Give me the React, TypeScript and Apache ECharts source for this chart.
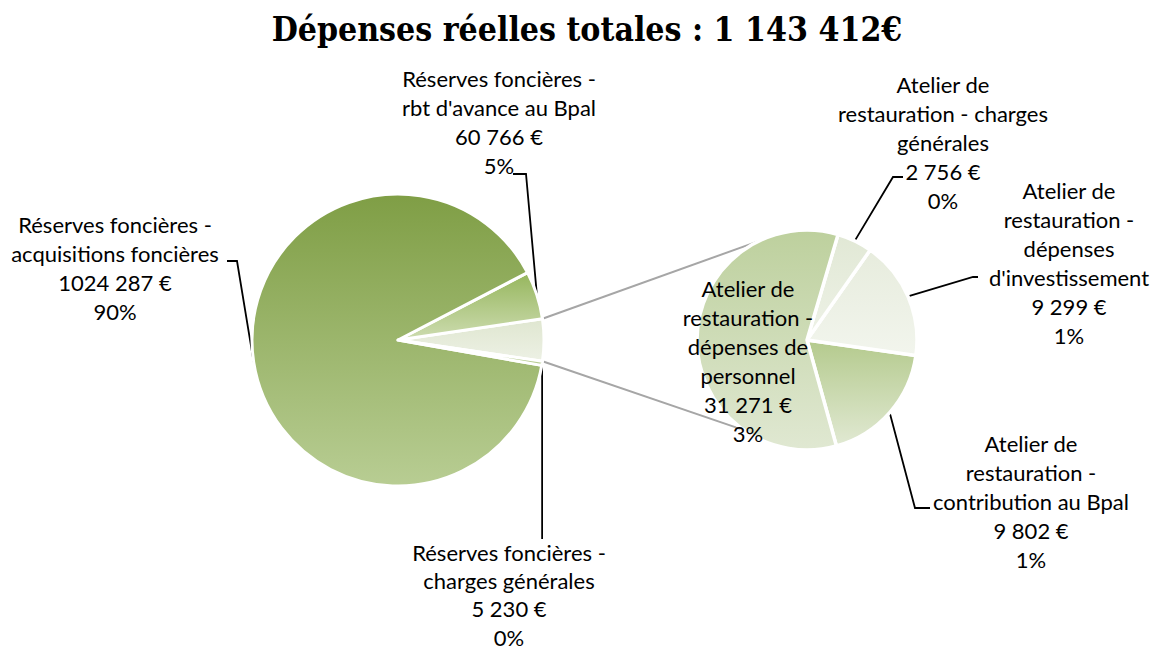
import React, { useEffect, useRef } from "react";
import * as echarts from "echarts";

// ---------- data ----------
const TITLE = "Dépenses réelles totales : 1 143 412€";

const mainNames = [
  "Réserves foncières -\nrbt d'avance au Bpal",
  "Réserves foncières -\nacquisitions foncières",
  "Réserves foncières -\ncharges générales",
];
const mainValues = [60766, 1024287, 5230];

const subNames = [
  "Atelier de\nrestauration -\ncontribution au Bpal",
  "Atelier de\nrestauration -\ndépenses\nd'investissement",
  "Atelier de\nrestauration - charges\ngénérales",
  "Atelier de\nrestauration -\ndépenses de\npersonnel",
];
const subValues = [9802, 9299, 2756, 31271];

// ---------- layout / style ----------
const MAIN_C = [398, 340];
const MAIN_R = 146;
const SUB_C = [807, 340];
const SUB_R = 110;
const SUB_START = -74.5;
const LINK_TOP_ANGLE = 116;
const LINK_BOTTOM_ANGLE = -125;

const FONT = "Lato, 'Noto Sans', sans-serif";

const g = (a: string, b: string) =>
  new echarts.graphic.LinearGradient(0, 0, 0, 1, [
    { offset: 0, color: a },
    { offset: 1, color: b },
  ]);

const mainOtherColor = () => g("#dfe6d0", "#edf1e5");
const mainColors = [
  () => g("#96b65d", "#cddcb0"),
  () => g("#7f9e45", "#b8cd93"),
  () => g("#b0c789", "#b8cd93"),
];
const subColors = [
  () => g("#b4ca8d", "#e1e9d3"),
  () => g("#e7ecdd", "#f2f5ed"),
  () => g("#e1e8d5", "#eef2e7"),
  () => g("#bdd09d", "#e0e8d2"),
];

// label layouts (index = data index in the series)
const MAIN_LABELS: any[] = [
  null,
  { x: 499, y: 63.5, elbow: [[526, 174], [513, 174]] },
  { x: 115, y: 209.5, elbow: [[237, 261], [227, 261]] },
  { x: 509, y: 538, vertical: 539 },
];
const SUB_LABELS: any[] = [
  { x: 1031, y: 428.5, elbow: [[915, 508], [930, 508]] },
  { x: 1069, y: 175.5, elbow: [[973, 277], [978, 277]] },
  { x: 943, y: 69.5, elbow: [[893, 177], [903, 177]] },
  { x: 748, y: 273.5, none: true },
];

const fmtEuro = (v: number) => {
  const s = String(v);
  return (s.length > 3 ? s.slice(0, -3) + " " + s.slice(-3) : s) + " €";
};

export default function App() {
  const ref = useRef<HTMLDivElement>(null);

  useEffect(() => {
    if (!ref.current) return;
    const chart = echarts.init(ref.current, undefined, { renderer: "svg" });

    const otherSum = subValues.reduce((a, b) => a + b, 0);
    const grand = mainValues.reduce((a, b) => a + b, 0) + otherSum;
    const half = (otherSum / grand) * 180;

    const formatter = (p: any) =>
      `${p.name}\n${fmtEuro(p.value)}\n${Math.round((p.value / grand) * 100)}%`;

    const makeLayout = (table: any[]) => (params: any) => {
      const L = table[params.dataIndex];
      if (!L) return {};
      const res: any = { x: L.x, y: L.y, align: "center", verticalAlign: "top" };
      const pts = params.labelLinePoints;
      if (pts && !L.none) {
        const p0 = pts[0];
        if (L.vertical != null) {
          res.labelLinePoints = [p0, [p0[0], L.vertical], [p0[0], L.vertical]];
        } else {
          res.labelLinePoints = [p0, L.elbow[0], L.elbow[1]];
        }
      }
      return res;
    };

    const labelStyle = {
      show: true,
      position: "outside",
      formatter,
      fontFamily: FONT,
      fontSize: 22,
      lineHeight: 29,
      color: "#000",
      align: "center",
    };
    const lineStyle = { show: true, lineStyle: { color: "#000", width: 1.8 } };

    const mainData = [
      {
        name: "Autres",
        value: otherSum,
        label: { show: false },
        labelLine: { show: false },
        itemStyle: { color: mainOtherColor() },
      },
      ...mainNames.map((n, i) => ({
        name: n,
        value: mainValues[i],
        itemStyle: { color: mainColors[i]() },
        label: i === 2 ? { lineHeight: 28.3 } : undefined,
      })),
    ];

    const subData = subNames.map((n, i) => ({
      name: n,
      value: subValues[i],
      itemStyle: { color: subColors[i]() },
      labelLine: SUB_LABELS[i].none ? { show: false } : undefined,
    }));

    const rad = (d: number) => (d * Math.PI) / 180;
    const pt = (c: number[], r: number, a: number) => [
      c[0] + r * Math.cos(rad(a)),
      c[1] - r * Math.sin(rad(a)),
    ];
    const a1 = pt(MAIN_C, MAIN_R, half);
    const a2 = pt(MAIN_C, MAIN_R, -half);
    const b1 = pt(SUB_C, SUB_R, LINK_TOP_ANGLE);
    const b2 = pt(SUB_C, SUB_R, LINK_BOTTOM_ANGLE);

    chart.setOption({
      animation: false,
      graphic: [
        {
          type: "text",
          x: 587,
          y: 29,
          style: {
            text: TITLE,
            textAlign: "center",
            textVerticalAlign: "middle",
            fontFamily: "'DejaVu Serif Condensed', 'DejaVu Serif', serif",
            fontWeight: "bold",
            fontSize: 33.5,
            fill: "#000",
          },
        },
        {
          type: "line",
          shape: { x1: a1[0], y1: a1[1], x2: b1[0], y2: b1[1] },
          style: { stroke: "#a6a6a6", lineWidth: 2 },
        },
        {
          type: "line",
          shape: { x1: a2[0], y1: a2[1], x2: b2[0], y2: b2[1] },
          style: { stroke: "#a6a6a6", lineWidth: 2 },
        },
      ],
      series: [
        {
          type: "pie",
          center: MAIN_C,
          radius: MAIN_R,
          startAngle: -half,
          clockwise: false,
          avoidLabelOverlap: false,
          itemStyle: { borderColor: "#fff", borderWidth: 3 },
          label: labelStyle,
          labelLine: lineStyle,
          labelLayout: makeLayout(MAIN_LABELS),
          emphasis: { disabled: true },
          data: mainData,
        },
        {
          type: "pie",
          center: SUB_C,
          radius: SUB_R,
          startAngle: SUB_START,
          clockwise: false,
          avoidLabelOverlap: false,
          itemStyle: { borderColor: "#fff", borderWidth: 3.5 },
          label: labelStyle,
          labelLine: lineStyle,
          labelLayout: makeLayout(SUB_LABELS),
          emphasis: { disabled: true },
          data: subData,
        },
      ],
    });

    return () => chart.dispose();
  }, []);

  return (
    <div
      ref={ref}
      style={{ position: "fixed", left: 0, top: 0, width: 1154, height: 650, background: "#fff" }}
    />
  );
}
